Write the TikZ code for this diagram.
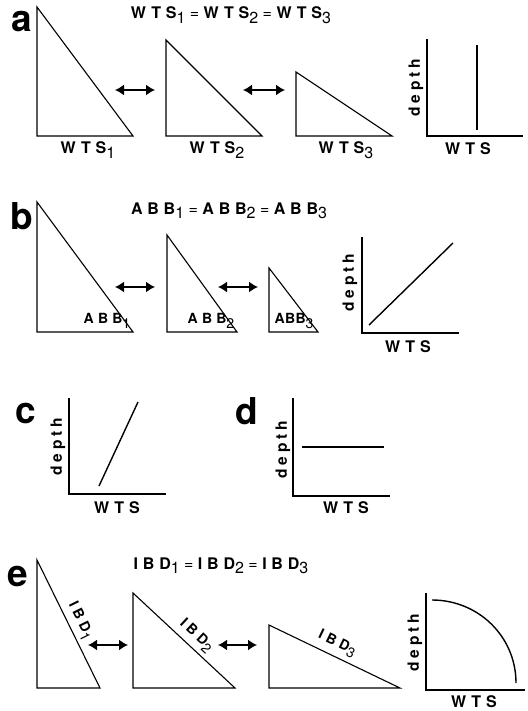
\documentclass[tikz,border=0pt]{standalone}
\usepackage{fontspec}
\setmainfont{TeX Gyre Heros}
\newfontfamily\spcfont{TeX Gyre Heros}[LetterSpace=30]
\newfontfamily\depfont{TeX Gyre Heros}[LetterSpace=24]
\newfontfamily\tightfont{TeX Gyre Heros}[LetterSpace=3]
\usetikzlibrary{arrows.meta}
\newcommand\mylab[2]{{\spcfont\bfseries #1}\raisebox{-4.5pt}{#2}}
\begin{document}
\begin{tikzpicture}[x=1pt,y=-1pt,
  tri/.style={line width=1.1pt,line join=miter},
  axis/.style={line width=1.7pt},
  crv/.style={line width=1.4pt},
  dbl/.style={{Latex[length=9pt,width=11pt]}-{Latex[length=9pt,width=11pt]},line width=1.5pt},
  plab/.style={font=\fontsize{37}{37}\selectfont\bfseries,inner sep=0pt},
  txt/.style={font=\fontsize{16}{16}\selectfont,inner sep=0pt},
  ylab/.style={font=\fontsize{15.5}{16}\selectfont\depfont\bfseries,inner sep=0pt,rotate=90},
  slab/.style={font=\fontsize{14}{14}\selectfont,inner sep=0pt}]
\useasboundingbox (0,0) rectangle (527,711);

% ---------- panel a
\node[plab] (la) at (22,22) {a};
\node[txt] (ta) at (231,15) {\mylab{WTS}{1} = \mylab{WTS}{2} = \mylab{WTS}{3}};
\draw[tri] (37,7) coordinate (a1t) -- (37,136) coordinate (a1l) -- (133,136) coordinate (a1r) -- cycle;
\draw[tri] (166,40) coordinate (a2t) -- (166,136) coordinate (a2l) -- (262,136) coordinate (a2r) -- cycle;
\draw[tri] (296,72) coordinate (a3t) -- (296,136) coordinate (a3l) -- (392,136) coordinate (a3r) -- cycle;
\coordinate (aa1) at (115,90); \coordinate (aa2) at (155,90);
\coordinate (aa3) at (243,90); \coordinate (aa4) at (285,90);
\draw[dbl] (aa1) -- (aa2);
\draw[dbl] (aa3) -- (aa4);
\node[txt] (wa1) at (88,150) {\mylab{WTS}{1}};
\node[txt] (wa2) at (217,150) {\mylab{WTS}{2}};
\node[txt] (wa3) at (346,150) {\mylab{WTS}{3}};
\coordinate (gaT) at (427,39); \coordinate (gaO) at (427,136); \coordinate (gaR) at (523,136);
\draw[axis] (gaT) -- (gaO) -- (gaR);
\coordinate (gaL1) at (477,45); \coordinate (gaL2) at (477,130);
\draw[crv] (gaL1) -- (gaL2);
\node[ylab] (da) at (416,88) {depth};
\node[txt] (xa) at (468,149) {{\spcfont\bfseries WTS}};

% ---------- panel b
\node[plab] (lb) at (22,216) {b};
\node[txt] (tb) at (229,211) {\mylab{ABB}{1} = \mylab{ABB}{2} = \mylab{ABB}{3}};
\draw[tri] (37,202) coordinate (b1t) -- (37,332) coordinate (b1l) -- (133,332) coordinate (b1r) -- cycle;
\draw[tri] (167,235) coordinate (b2t) -- (167,332) coordinate (b2l) -- (237,332) coordinate (b2r) -- cycle;
\draw[tri] (269,268) coordinate (b3t) -- (269,332) coordinate (b3l) -- (318,332) coordinate (b3r) -- cycle;
\coordinate (ba1) at (115,287); \coordinate (ba2) at (155,287);
\coordinate (ba3) at (218,287); \coordinate (ba4) at (258,287);
\draw[dbl] (ba1) -- (ba2);
\draw[dbl] (ba3) -- (ba4);
\node[slab] (ab1) at (107,321) {\mylab{ABB}{1}};
\node[slab] (ab2) at (211,321) {\mylab{ABB}{2}};
\node[slab] (ab3) at (294,321) {{\tightfont\bfseries ABB}\raisebox{-4.5pt}{3}};
\coordinate (gbT) at (362,237); \coordinate (gbO) at (362,333); \coordinate (gbR) at (459,333);
\draw[axis] (gbT) -- (gbO) -- (gbR);
\coordinate (gbL1) at (369,325); \coordinate (gbL2) at (453,243);
\draw[crv] (gbL1) -- (gbL2);
\node[ylab] (db) at (350,283) {depth};
\node[txt] (xb) at (408,347) {{\spcfont\bfseries WTS}};

% ---------- panel c
\node[plab] (lc) at (26,414) {c};
\coordinate (gcT) at (69,398); \coordinate (gcO) at (69,494); \coordinate (gcR) at (166,494);
\draw[axis] (gcT) -- (gcO) -- (gcR);
\coordinate (gcL1) at (99,486); \coordinate (gcL2) at (138,402);
\draw[crv] (gcL1) -- (gcL2);
\node[ylab] (dc) at (58,447) {depth};
\node[txt] (xc) at (117,508) {{\spcfont\bfseries WTS}};

% ---------- panel d
\node[plab] (ld) at (247,411) {d};
\coordinate (gdT) at (293,398); \coordinate (gdO) at (293,496); \coordinate (gdR) at (390,496);
\draw[axis] (gdT) -- (gdO) -- (gdR);
\coordinate (gdL1) at (302,447); \coordinate (gdL2) at (384,447);
\draw[crv] (gdL1) -- (gdL2);
\node[ylab] (dd) at (283,450) {depth};
\node[txt] (xd) at (346,508) {{\spcfont\bfseries WTS}};

% ---------- panel e
\node[plab] (le) at (18,577) {e};
\node[txt] (te) at (221,566) {\mylab{IBD}{1} = \mylab{IBD}{2} = \mylab{IBD}{3}};
\draw[tri] (37,560) coordinate (e1t) -- (37,688) coordinate (e1l) -- (100,688) coordinate (e1r) -- cycle;
\draw[tri] (133,593) coordinate (e2t) -- (133,688) coordinate (e2l) -- (235,688) coordinate (e2r) -- cycle;
\draw[tri] (269,625) coordinate (e3t) -- (269,688) coordinate (e3l) -- (400,688) coordinate (e3r) -- cycle;
\coordinate (ea1) at (88,645); \coordinate (ea2) at (128,645);
\coordinate (ea3) at (218,645); \coordinate (ea4) at (257,645);
\draw[dbl] (ea1) -- (ea2);
\draw[dbl] (ea3) -- (ea4);
\node[slab,rotate=-63.8] (ib1) at (80,621) {\mylab{IBD}{1}};
\node[slab,rotate=-43] (ib2) at (196,636) {\mylab{IBD}{2}};
\node[slab,rotate=-25.7] (ib3) at (337,644) {\mylab{IBD}{3}};
\coordinate (geT) at (426,593); \coordinate (geO) at (426,690); \coordinate (geR) at (525,690);
\draw[axis] (geT) -- (geO) -- (geR);
\coordinate (geL1) at (432,600); \coordinate (geL2) at (516,683);
\draw[crv] (geL1) .. controls (478.4,600) and (516,636.6) .. (geL2);
\node[ylab] (de) at (415,643) {depth};
\node[txt] (xe) at (474,702) {{\spcfont\bfseries WTS}};
\end{tikzpicture}
\end{document}
